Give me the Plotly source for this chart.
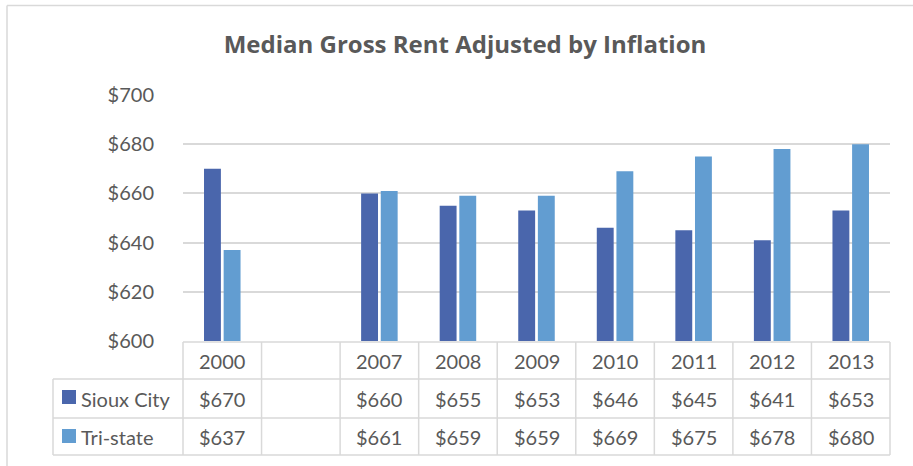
import plotly.graph_objects as go

categories = ["2000", " ", "2007", "2008", "2009", "2010", "2011", "2012", "2013"]
sioux_city = [670, None, 660, 655, 653, 646, 645, 641, 653]
tri_state = [637, None, 661, 659, 659, 669, 675, 678, 680]
series_names = ["Sioux City", "Tri-state"]
colors = ["#4a66ac", "#629dd1"]
title_text = "Median Gross Rent Adjusted by Inflation"

W, H = 913, 466
L, R, T, B = 183, 890, 95, 341
PW, PH = R - L, B - T

def px_x(px):
    return (px - L) / PW

def px_y(py):
    return (B - py) / PH

TXT = "#595959"
GRID = "#d9d9d9"
FONT = "Lato"

fig = go.Figure()
for name, vals, col in zip(series_names, [sioux_city, tri_state], colors):
    fig.add_trace(go.Bar(x=categories, y=vals, name=name, marker_color=col,
                         marker_line_width=0, showlegend=False))

fig.update_layout(
    width=W, height=H,
    margin=dict(l=L, r=W - R, t=T, b=H - B, pad=0),
    paper_bgcolor="white", plot_bgcolor="white",
    barmode="group", bargap=0.5, bargroupgap=0.14,
    title=dict(text="<b>" + title_text + "</b>", x=465 / W, xref="container",
               xanchor="center", y=1 - 45 / H, yref="container", yanchor="middle",
               font=dict(family="Open Sans", size=24, color=TXT)),
    font=dict(family=FONT, color=TXT),
)
fig.update_xaxes(type="category", categoryorder="array", categoryarray=categories,
                 range=[-0.5, len(categories) - 0.5], showticklabels=False,
                 showgrid=False, zeroline=False, showline=False, ticks="")
fig.update_yaxes(range=[600, 700], dtick=20, tickprefix="$", showgrid=True,
                 gridcolor=GRID, gridwidth=1.5, zeroline=False, showline=False,
                 ticks="", ticklabelstandoff=28,
                 tickfont=dict(family=FONT, size=20, color=TXT))

shapes = []
line = dict(color=GRID, width=1.5)
row_top, row1, row2, row_bot = 342, 379, 418, 455
n = len(categories)
for i in range(n + 1):
    xp = i / n
    shapes.append(dict(type="line", xref="paper", yref="paper", x0=xp, x1=xp,
                       y0=px_y(row_top), y1=px_y(row_bot), line=line))
shapes.append(dict(type="line", xref="paper", yref="paper", x0=px_x(53), x1=px_x(53),
                   y0=px_y(row1), y1=px_y(row_bot), line=line))
shapes.append(dict(type="line", xref="paper", yref="paper", x0=0, x1=1,
                   y0=px_y(row_top), y1=px_y(row_top), line=line))
for ry in [row1, row2, row_bot]:
    shapes.append(dict(type="line", xref="paper", yref="paper", x0=px_x(53), x1=1,
                       y0=px_y(ry), y1=px_y(ry), line=line))
for (y0, y1), col in zip([(390, 404), (429, 443)], colors):
    shapes.append(dict(type="rect", xref="paper", yref="paper", x0=px_x(62), x1=px_x(76),
                       y0=px_y(y1), y1=px_y(y0), fillcolor=col, line=dict(width=0)))
shapes.append(dict(type="line", xref="paper", yref="paper", x0=px_x(7), x1=px_x(7),
                   y0=px_y(5.5), y1=px_y(475), line=dict(color=GRID, width=1.5)))
shapes.append(dict(type="line", xref="paper", yref="paper", x0=px_x(7), x1=px_x(925),
                   y0=px_y(5.5), y1=px_y(5.5), line=dict(color=GRID, width=1.5)))
fig.update_layout(shapes=shapes)

ann = []
tf = dict(family=FONT, size=20, color=TXT)
row_centers = [(row_top + row1) / 2, (row1 + row2) / 2, (row2 + row_bot) / 2]
for i, (c, s, t) in enumerate(zip(categories, sioux_city, tri_state)):
    ann.append(dict(x=i, xref="x", y=px_y(row_centers[0]), yref="paper", text=c.strip(),
                    showarrow=False, font=tf, xanchor="center", yanchor="middle"))
    for v, rc in [(s, row_centers[1]), (t, row_centers[2])]:
        if v is not None:
            ann.append(dict(x=i, xref="x", y=px_y(rc), yref="paper", text="$%d" % v,
                            showarrow=False, font=tf, xanchor="center", yanchor="middle"))
for name, rc in zip(series_names, row_centers[1:]):
    ann.append(dict(x=px_x(79), xref="paper", y=px_y(rc), yref="paper", text=name,
                    showarrow=False, font=tf, xanchor="left", yanchor="middle"))
fig.update_layout(annotations=ann)

fig.write_html("out.html", config={"displayModeBar": False},
               post_script="document.body.style.margin='0';")
